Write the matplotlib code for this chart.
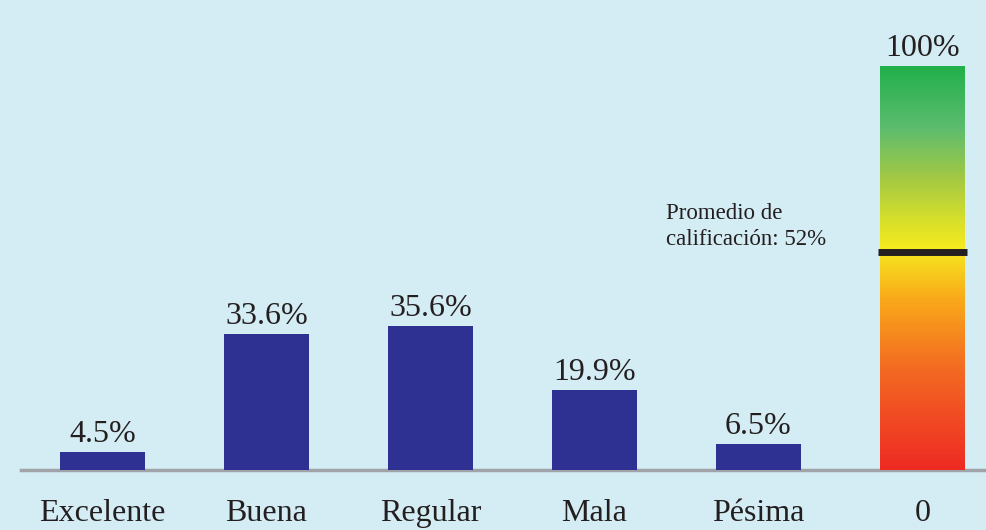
import numpy as np
import matplotlib.pyplot as plt
from matplotlib.colors import LinearSegmentedColormap

# datos
categorias = ['Excelente', 'Buena', 'Regular', 'Mala', 'Pésima']
porcentajes = [4.5, 33.6, 35.6, 19.9, 6.5]
etiquetas = ['4.5%', '33.6%', '35.6%', '19.9%', '6.5%']
escala_max = 100
escala_min_label = '0'
escala_max_label = '100%'
promedio_label = 'Promedio de\ncalificación: 52%'
promedio_pos = 54  # posición de la marca

bg = '#d4ecf3'
bar_color = '#2e3192'
text_color = '#231f20'
font = 'Liberation Serif'
fs = 23

fig = plt.figure(figsize=(9.87, 5.30), dpi=100, facecolor=bg)
ax = fig.add_axes([0, 0, 1, 1])
ax.set_facecolor(bg)

px_per = 4.04
ax.set_xlim(-102.5 / 164, (987 - 102.5) / 164)
ax.set_ylim(-60 / px_per, 470 / px_per)
ax.axis('off')

x = np.arange(len(categorias))
w = 85 / 164
ax.bar(x, porcentajes, width=w, color=bar_color, zorder=2)

for xi, v, lab, cat in zip(x, porcentajes, etiquetas, categorias):
    ax.text(xi, v + 10 / px_per, lab, ha='center', va='baseline', fontsize=fs,
            family=font, color=text_color)
    ax.text(xi, -51 / px_per, cat, ha='center', va='baseline', fontsize=fs,
            family=font, color=text_color)

# barra de escala con degradado
xg = len(categorias)
cmap = LinearSegmentedColormap.from_list('escala', [
    (0.0, '#ee2a24'), (0.25, '#f36a22'), (0.42, '#f9a81a'), (0.55, '#f6ea1f'),
    (0.62, '#d6df2b'), (0.72, '#a5c943'), (0.85, '#5cbc6f'), (1.0, '#21b04b')])
grad = np.linspace(0, 1, 256).reshape(-1, 1)
ax.imshow(grad, cmap=cmap, origin='lower', aspect='auto',
          extent=(xg - w / 2, xg + w / 2, 0, escala_max), zorder=2)
ax.plot([xg - w / 2 - 0.01, xg + w / 2 + 0.01], [promedio_pos, promedio_pos],
        color='#231f20', lw=5, solid_capstyle='butt', zorder=3)
ax.text(xg, escala_max + 10 / px_per, escala_max_label, ha='center', va='baseline',
        fontsize=fs, family=font, color=text_color)
ax.text(xg, -51 / px_per, escala_min_label, ha='center', va='baseline', fontsize=fs,
        family=font, color=text_color)
ax.text(666 / 164 - 102.5 / 164, (470 - 245) / px_per, promedio_label, ha='left',
        va='baseline', fontsize=16.5, family=font, color=text_color, linespacing=1.3)

# línea base
ax.axhline(0, xmin=21 / 987, xmax=1, color='#a0a4a8', lw=2.5, zorder=1)

fig.savefig('out.png', dpi=100, facecolor=bg)
